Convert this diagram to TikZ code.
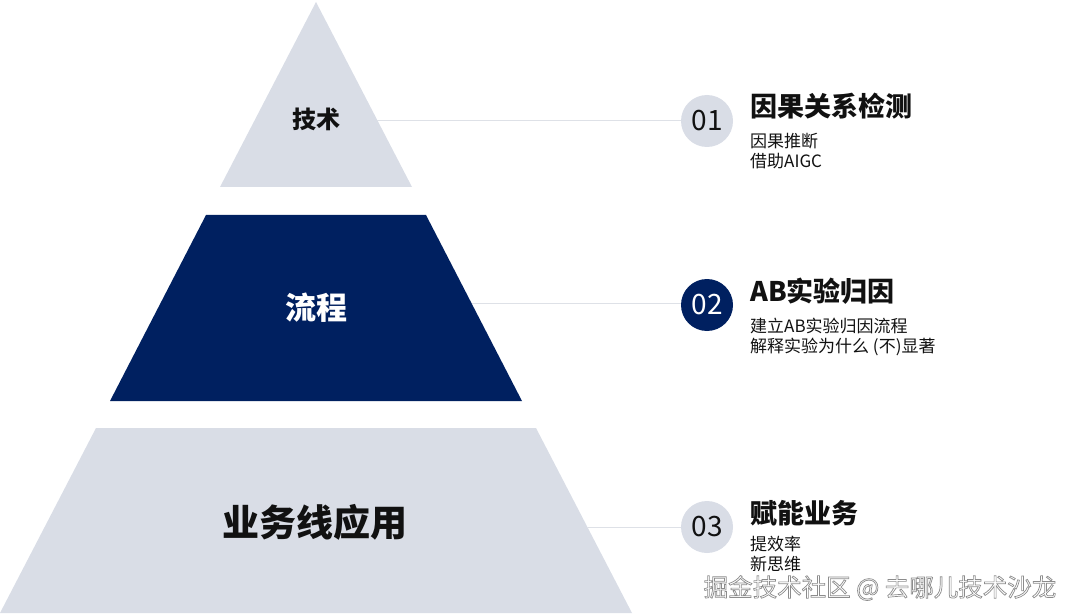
\documentclass[tikz,border=0pt]{standalone}
\usepackage{fontspec}
\setmainfont{Noto Sans CJK SC}
\usepackage{xcolor}
\usepackage{tikz}
\definecolor{pyrgray}{RGB}{217,221,230}
\definecolor{navy}{RGB}{0,32,96}
\definecolor{linkgray}{RGB}{222,225,231}
\definecolor{inkblack}{RGB}{17,17,17}
% outlined text: white fill, grey stroke
\newcommand{\outlinedtext}[1]{\special{pdf:code 2 Tr 0.7 w 0.55 G}#1\special{pdf:code 0 Tr}}

\begin{document}
\begin{tikzpicture}[x=1pt,y=-1pt,
  band/.style={fill=pyrgray},
  bandtext/.style={font=\bfseries\fontsize{#1}{#1}\selectfont,inner sep=0pt,text=inkblack},
  numdot/.style={circle,minimum size=52pt,inner sep=0pt,fill=pyrgray,font=\fontsize{28}{28}\selectfont,text=inkblack},
  link/.style={linkgray,line width=1pt},
  head/.style={anchor=west,inner sep=0pt,font=\bfseries\fontsize{27}{27}\selectfont,text=inkblack},
  sub/.style={anchor=north west,inner sep=0pt,align=left,font=\fontsize{17}{19.5}\selectfont,text=inkblack}]
\useasboundingbox (0,0) rectangle (1080,615);
% pyramid bands
\fill[band] (316,2) -- (412,187) -- (220,187) -- cycle;
\fill[navy] (206,215) -- (426,215) -- (522,401) -- (110,401) -- cycle;
\fill[band] (96,428) -- (536,428) -- (632,613) -- (0,613) -- cycle;
\node[bandtext=24] (t1) at (316,119) {技术};
\node[bandtext=31,text=white] (t2) at (316,308) {流程};
\node[bandtext=37] (t3) at (315,522) {业务线应用};
% edge points for the connectors
\coordinate (e1) at (377,121);
\coordinate (e2) at (472,303);
\coordinate (e3) at (588,527);
% numbered circles
\node[numdot] (n1) at (707,121) {01};
\node[numdot,fill=navy,text=white] (n2) at (707,305) {02};
\node[numdot] (n3) at (707,527) {03};
\draw[link] (e1) -- (n1.west);
\draw[link] (e2) -- (n2.west |- e2);
\draw[link] (e3) -- (n3.west);
% headings and details
\node[head] (h1) at (750,106) {因果关系检测};
\node[sub] (s1) at (750,133) {因果推断\\借助AIGC};
\node[head] (h2) at (750,291) {AB实验归因};
\node[sub] (s2) at (750,318) {建立AB实验归因流程\\解释实验为什么 (不)显著};
\node[head] (h3) at (750,513) {赋能业务};
\node[sub] (s3) at (750,536) {提效率\\新思维};
% watermark
\node[font=\fontsize{24.5}{24.5}\selectfont,text=white,inner sep=0pt] (wm) at (880,588) {\outlinedtext{掘金技术社区 @ 去哪儿技术沙龙}};
\end{tikzpicture}
\end{document}
